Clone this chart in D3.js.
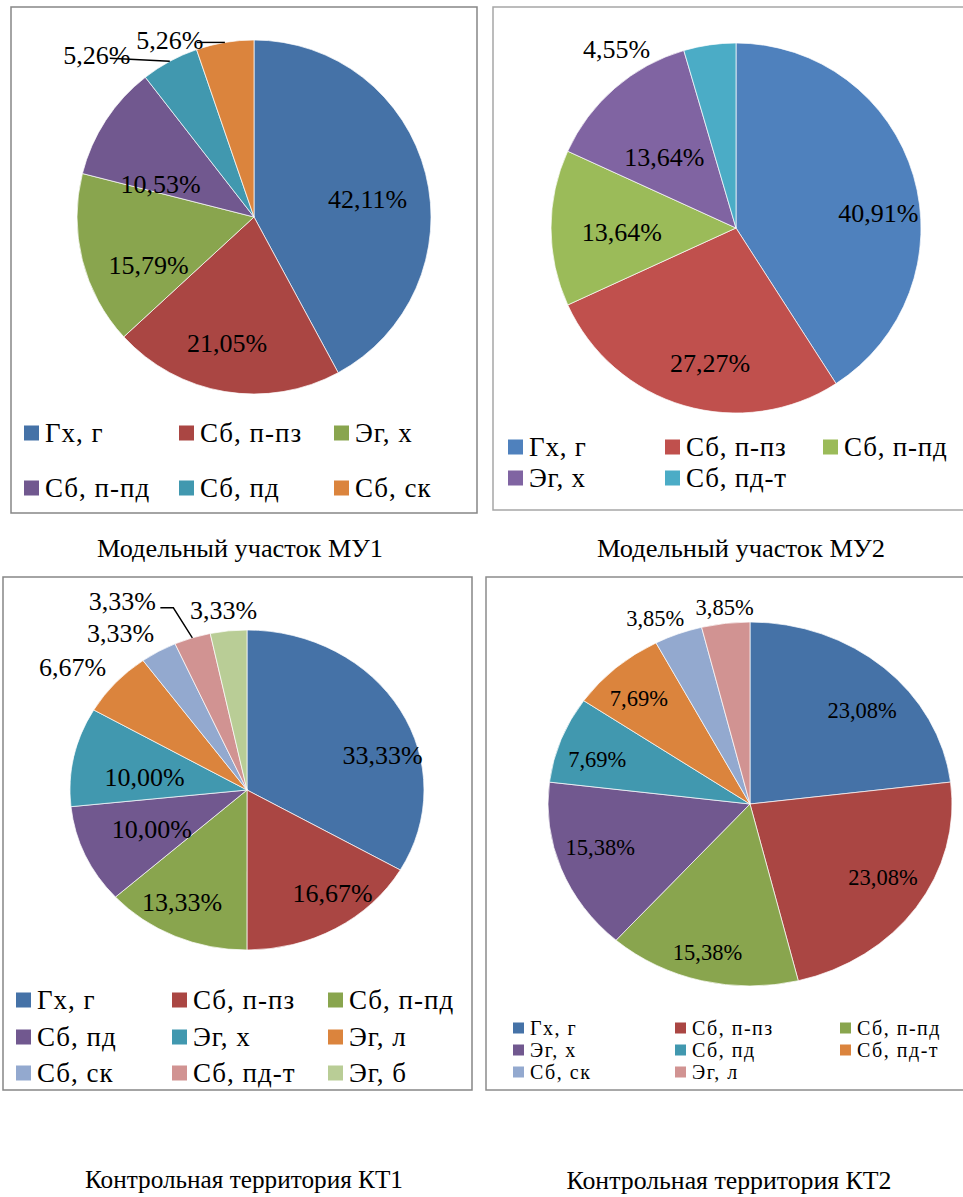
<!DOCTYPE html>
<html>
<head>
<meta charset="utf-8">
<script src="https://cdn.jsdelivr.net/npm/d3@7"></script>
<style>
  body { margin: 0; background: #fff; }
  svg text { font-family: "Liberation Serif", "DejaVu Serif", "Times New Roman", Times, serif; }
</style>
</head>
<body>
<svg id="chart" width="963" height="1197"></svg>
<script>
// data
const mu1Cats = ["Гх, г", "Сб, п-пз", "Эг, х", "Сб, п-пд", "Сб, пд", "Сб, ск"];
const mu1Vals = [42.11, 21.05, 15.79, 10.53, 5.26, 5.26];

const mu2Cats = ["Гх, г", "Сб, п-пз", "Сб, п-пд", "Эг, х", "Сб, пд-т"];
const mu2Vals = [40.91, 27.27, 13.64, 13.64, 4.55];

const kt1Cats = ["Гх, г", "Сб, п-пз", "Сб, п-пд", "Сб, пд", "Эг, х", "Эг, л", "Сб, ск", "Сб, пд-т", "Эг, б"];
const kt1Vals = [33.33, 16.67, 13.33, 10.00, 10.00, 6.67, 3.33, 3.33, 3.33];

const kt2Cats = ["Гх, г", "Сб, п-пз", "Сб, п-пд", "Эг, х", "Сб, пд", "Сб, пд-т", "Сб, ск", "Эг, л"];
const kt2Vals = [23.08, 23.08, 15.38, 15.38, 7.69, 7.69, 3.85, 3.85];

const titles = ["Модельный участок МУ1", "Модельный участок МУ2",
                "Контрольная территория КТ1", "Контрольная территория КТ2"];

// excel palettes
const pal2007 = ["#4572A7", "#AA4643", "#89A54E", "#71588F", "#4198AF", "#DB843D", "#93A9CF", "#D19392", "#B9CD96"];
const pal2010 = ["#4F81BD", "#C0504D", "#9BBB59", "#8064A2", "#4BACC6"];

const FONT = "'Liberation Serif', 'DejaVu Serif', serif";

// layout of each panel
const panels = [
  { cats: mu1Cats, vals: mu1Vals, title: titles[0], colors: pal2007,
    box: [11, 7, 477, 513], border: "#868686", cx: 254, cy: 217, rx: 177, ry: 177, k: 0.65, fs: 26,
    nudge: [[2, 11], [-8, 13], [6, 20], [3, 30]],
    outside: { 4: { text: [-73, -6], line: [[-60, -3]] }, 5: { text: [-55, -2], line: [[-28, 0]] } },
    legend: { cols: [24, 179, 334], rows: [433, 488], sq: 15, gap: 21, fs: 27, ls: 1 },
    tx: 240, ty: 557, tw: 286 },
  { cats: mu2Cats, vals: mu2Vals, title: titles[1], colors: pal2010,
    box: [493, 7, 975, 510], border: "#a6a6a6", cx: 736, cy: 228, rx: 185, ry: 185, k: 0.65, fs: 26,
    nudge: [[27, 19], [8, 20], [6, 4], [7, 20]],
    outside: { 4: { text: [-93, 5], line: [] } },
    legend: { cols: [508, 665, 823], rows: [447, 478], sq: 15, gap: 21, fs: 27, ls: 0.8 },
    tx: 741, ty: 557, tw: 288 },
  { cats: kt1Cats, vals: kt1Vals, title: titles[2], colors: pal2007,
    box: [3, 577, 472, 1090], border: "#868686", cx: 247, cy: 790, rx: 177, ry: 160, k: 0.65, fs: 26,
    nudge: [[36, 17], [28, 13], [-18, 18], [10, -3], [10, 9]],
    outside: { 5: { text: [-43, -15], line: [] }, 6: { text: [-38, -18], line: [] },
               7: { text: [-70, -36], line: [[-19, -30], [-32, -30]] }, 8: { text: [-5, -20], line: [] } },
    legend: { cols: [16, 172, 328], rows: [1000, 1037, 1073], sq: 15, gap: 21, fs: 27, ls: 1 },
    tx: 244, ty: 1188, tw: 318 },
  { cats: kt2Cats, vals: kt2Vals, title: titles[3], colors: pal2007,
    box: [486, 577, 975, 1090], border: "#8c8c8c", cx: 750, cy: 804, rx: 202, ry: 182, k: 0.65, fs: 22.5,
    nudge: [[25, -5], [25, 6], [-11, 34], [-27, 2], [-30, -3], [-24, -17]],
    outside: { 6: { text: [-23, -15], line: [] }, 7: { text: [-1, -16], line: [] } },
    legend: { cols: [513, 675, 840], rows: [1028, 1050, 1072], sq: 11, gap: 17, fs: 20, ls: 1.5 },
    tx: 729, ty: 1189, tw: 325 }
];

const fmt = v => v.toFixed(2).replace(".", ",") + "%";

const svg = d3.select("#chart");
const pie = d3.pie().sort(null).value(d => d);

panels.forEach(function(p) {
  const g = svg.append("g");

  // frame
  g.append("rect")
    .attr("x", p.box[0]).attr("y", p.box[1])
    .attr("width", p.box[2] - p.box[0]).attr("height", p.box[3] - p.box[1])
    .attr("fill", "none").attr("stroke", p.border).attr("stroke-width", 1.5);

  const arcs = pie(p.vals);
  const sy = p.ry / p.rx;
  const arc = d3.arc().innerRadius(0).outerRadius(p.rx);

  g.append("g")
    .attr("transform", "translate(" + p.cx + "," + p.cy + ") scale(1," + sy + ")")
    .selectAll("path")
    .data(arcs)
    .enter()
    .append("path")
    .attr("d", arc)
    .attr("fill", (d, i) => p.colors[i])
    .attr("stroke", "#fff")
    .attr("stroke-width", 0.7)
    .attr("vector-effect", "non-scaling-stroke");

  const inArc = d3.arc().innerRadius(p.rx * p.k).outerRadius(p.rx * p.k);
  const edgeArc = d3.arc().innerRadius(p.rx).outerRadius(p.rx);

  arcs.forEach(function(d, i) {
    let x, y;
    const out = p.outside[i];
    if (out) {
      const c = edgeArc.centroid(d);
      const ax = p.cx + c[0], ay = p.cy + c[1] * sy;
      if (out.line.length) {
        const pts = [[ax, ay]].concat(out.line.map(o => [ax + o[0], ay + o[1]]));
        g.append("path")
          .attr("d", d3.line()(pts))
          .attr("fill", "none").attr("stroke", "#000").attr("stroke-width", 1.4);
      }
      x = ax + out.text[0];
      y = ay + out.text[1];
    } else {
      const c = inArc.centroid(d);
      const n = p.nudge[i] || [0, 0];
      x = p.cx + c[0] + n[0];
      y = p.cy + c[1] * sy + n[1];
    }
    g.append("text")
      .attr("x", x).attr("y", y)
      .attr("text-anchor", "middle")
      .attr("dominant-baseline", "central")
      .attr("font-family", FONT)
      .attr("font-size", p.fs)
      .attr("fill", "#000")
      .text(fmt(d.data));
  });

  // legend, 3 columns
  const lg = p.legend;
  const items = g.append("g").selectAll("g")
    .data(p.cats)
    .enter()
    .append("g")
    .attr("transform", (d, i) => "translate(" + lg.cols[i % 3] + "," + lg.rows[Math.floor(i / 3)] + ")");
  items.append("rect")
    .attr("x", 0).attr("y", -lg.sq / 2)
    .attr("width", lg.sq).attr("height", lg.sq)
    .attr("fill", (d, i) => p.colors[i]);
  items.append("text")
    .attr("x", lg.gap).attr("y", 0)
    .attr("dominant-baseline", "central")
    .attr("font-family", FONT)
    .attr("font-size", lg.fs)
    .attr("letter-spacing", lg.ls)
    .attr("fill", "#000")
    .text(d => d);

  // caption under the frame
  svg.append("text")
    .attr("x", p.tx).attr("y", p.ty)
    .attr("text-anchor", "middle")
    .attr("font-family", FONT)
    .attr("font-size", 25)
    .attr("textLength", p.tw)
    .attr("lengthAdjust", "spacingAndGlyphs")
    .attr("fill", "#000")
    .text(p.title);
});
</script>
</body>
</html>
